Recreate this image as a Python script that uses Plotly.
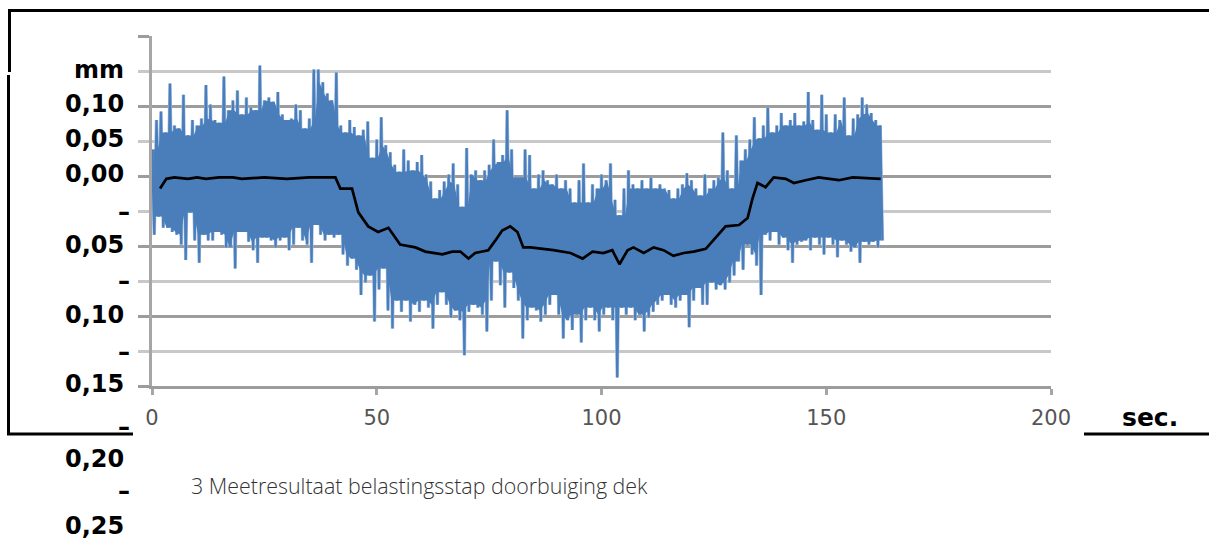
import plotly.graph_objects as go

# ---------------- data (mm, seconds) ----------------
t_sec = list(range(0, 163))

blue_hi = [
    0.019, 0.040, 0.046, 0.031, 0.066, 0.036, 0.034, 0.058, 0.029, 0.040,
    0.036, 0.041, 0.065, 0.051, 0.040, 0.038, 0.071, 0.047, 0.054, 0.061,
    0.044, 0.056, 0.049, 0.047, 0.079, 0.054, 0.056, 0.053, 0.060, 0.044,
    0.040, 0.041, 0.051, 0.047, 0.034, 0.041, 0.076, 0.076, 0.067, 0.059,
    0.054, 0.074,
    0.036, 0.031, 0.040, 0.035, 0.029, 0.033, 0.039, 0.013, 0.026, 0.042,
    0.022, 0.017, 0.008, 0.003, 0.019, 0.011, 0.004, 0.010, 0.015, 0.001,
    -0.004, -0.016, -0.010, -0.004, 0.001, 0.009, -0.006, -0.022, 0.020, 0.001,
    0.004, -0.003, 0.004, 0.008, 0.026, 0.010, 0.015, 0.047, 0.019, -0.001,
    -0.001,
    0.019, 0.015, -0.009, 0.001, 0.004, -0.003, -0.006, 0.001, -0.009, -0.003,
    -0.009, -0.019, -0.003, 0.009, -0.019, -0.006, -0.009, 0.001, -0.003, 0.009,
    -0.017, -0.028, -0.009, 0.004, -0.006, -0.009, -0.003, -0.009, -0.001, -0.009,
    -0.006, -0.009, -0.010, -0.016, -0.009, -0.006, 0.002, -0.003, -0.009, -0.014,
    0.001,
    -0.009, -0.003, -0.001, 0.031, 0.004, -0.009, 0.029, 0.011, 0.019, 0.026,
    0.042, 0.027, 0.036, 0.049, 0.031, 0.036, 0.045, 0.036, 0.040, 0.045,
    0.036, 0.039, 0.060, 0.040, 0.033, 0.058, 0.044, 0.031, 0.044, 0.040,
    0.056, 0.029, 0.041, 0.044, 0.056, 0.051, 0.045, 0.040, 0.036,
]

blue_lo = [
    -0.042, -0.029, -0.037, -0.037, -0.040, -0.042, -0.049, -0.060, -0.026, -0.046,
    -0.062, -0.042, -0.046, -0.046, -0.040, -0.042, -0.051, -0.051, -0.066, -0.040,
    -0.040, -0.047, -0.053, -0.062, -0.044, -0.044, -0.046, -0.051, -0.046, -0.044,
    -0.053, -0.049, -0.037, -0.046, -0.049, -0.062, -0.035, -0.042, -0.046, -0.042,
    -0.044, -0.042,
    -0.056, -0.064, -0.059, -0.067, -0.085, -0.076, -0.071, -0.104, -0.081, -0.066,
    -0.096, -0.109, -0.089, -0.097, -0.089, -0.104, -0.092, -0.097, -0.089, -0.094,
    -0.109, -0.092, -0.083, -0.092, -0.101, -0.096, -0.103, -0.128, -0.097, -0.092,
    -0.094, -0.099, -0.111, -0.089, -0.061, -0.078, -0.094, -0.069, -0.080, -0.089,
    -0.116,
    -0.103, -0.094, -0.096, -0.104, -0.099, -0.092, -0.085, -0.099, -0.116, -0.103,
    -0.110, -0.099, -0.119, -0.103, -0.094, -0.103, -0.111, -0.099, -0.094, -0.103,
    -0.144, -0.094, -0.099, -0.094, -0.103, -0.099, -0.111, -0.101, -0.097, -0.092,
    -0.089, -0.085, -0.092, -0.094, -0.089, -0.085, -0.108, -0.089, -0.080, -0.092,
    -0.092,
    -0.076, -0.081, -0.078, -0.081, -0.076, -0.071, -0.061, -0.067, -0.049, -0.056,
    -0.064, -0.085, -0.042, -0.046, -0.040, -0.049, -0.044, -0.053, -0.062, -0.049,
    -0.047, -0.046, -0.053, -0.044, -0.049, -0.056, -0.044, -0.049, -0.058, -0.046,
    -0.049, -0.054, -0.051, -0.062, -0.047, -0.049, -0.047, -0.051, -0.046,
]

avg_t = [1.8, 3.2, 5, 8, 10, 12, 15, 18, 20, 25, 30, 35, 40.8, 41.9, 44.5, 45.9,
         48.1, 50.3, 52.6, 55.2, 58.6, 60.8, 64.6, 66.8, 68.6, 70.4, 71.9, 74.8,
         76.4, 77.9, 79.7, 81.3, 82.6, 84.2, 89.3, 93.1, 95.8, 98, 100.4, 102.4,
         104, 105.8, 107.1, 109.4, 111.6, 113.8, 116, 118.3, 120.5, 123.2, 125.4,
         127.6, 130.6, 132.5, 133.6, 134.7, 136.5, 138.3, 141, 142.8, 145.4, 148.3,
         152.8, 155.9, 162.1]
avg_v = [-0.009, -0.002, -0.001, -0.002, -0.001, -0.002, -0.001, -0.001, -0.002,
         -0.001, -0.002, -0.001, -0.001, -0.009, -0.009, -0.026, -0.036, -0.040,
         -0.037, -0.049, -0.051, -0.054, -0.056, -0.054, -0.054, -0.059, -0.055,
         -0.053, -0.046, -0.039, -0.036, -0.040, -0.051, -0.051, -0.053, -0.055,
         -0.059, -0.054, -0.055, -0.053, -0.063, -0.053, -0.051, -0.055, -0.051,
         -0.053, -0.057, -0.055, -0.054, -0.052, -0.044, -0.036, -0.035, -0.030,
         -0.016, -0.005, -0.008, -0.001, -0.002, -0.005, -0.003, -0.001, -0.003,
         -0.001, -0.002]

x_ticks = [0, 50, 100, 150, 200]
y_labels = ["mm", "0,10", "0,05", "0,00", "–", "0,05", "–", "0,10", "–", "0,15",
            "–", "0,20", "–", "0,25"]
x_title = "sec."
caption = "3 Meetresultaat belastingsstap doorbuiging dek"

# ---------------- derived series ----------------
# the trace in time order: a peak and a trough per second
sig_x, sig_y = [], []
for t, h, l in zip(t_sec, blue_hi, blue_lo):
    sig_x += [t, t + 0.5]
    sig_y += [h, l]

# dense middle of the trace: below the lowest of neighbouring peaks and
# above the highest of neighbouring troughs
n = len(t_sec)
core_top = [min(blue_hi[max(0, i - 1):i + 2]) for i in range(n)]
core_bot = [max(blue_lo[max(0, i - 1):i + 2]) for i in range(n)]
core_x = [t + 0.25 for t in t_sec]

W, H = 1209, 542
L, R, T, B = 152, 1051, 36, 386


def px(xp):
    return (xp - L) / (R - L)


def py(yp):
    return (B - yp) / (B - T)


BLUE = "#4a7ebb"
fig = go.Figure()
fig.add_trace(go.Scatter(x=sig_x, y=sig_y, mode="lines",
                         line=dict(color="#a3bfe2", width=3.4), hoverinfo="skip"))
fig.add_trace(go.Scatter(x=core_x, y=core_top, mode="lines",
                         line=dict(color=BLUE, width=0), hoverinfo="skip"))
fig.add_trace(go.Scatter(x=core_x, y=core_bot, mode="lines", fill="tonexty",
                         fillcolor=BLUE, line=dict(color=BLUE, width=0),
                         hoverinfo="skip"))
fig.add_trace(go.Scatter(x=sig_x, y=sig_y, mode="lines",
                         line=dict(color=BLUE, width=2.2), hoverinfo="skip"))
fig.add_trace(go.Scatter(x=avg_t, y=avg_v, mode="lines",
                         line=dict(color="#000000", width=2.7), hoverinfo="skip"))

fig.update_layout(
    width=W, height=H, showlegend=False,
    margin=dict(l=L, r=W - R, t=T, b=H - B, pad=0),
    paper_bgcolor="white", plot_bgcolor="white",
    font=dict(family="DejaVu Sans", color="#000000"),
)
fig.update_xaxes(range=[0, 200], tickvals=x_ticks, ticks="outside", ticklen=6,
                 tickwidth=3, tickcolor="#a6a6a6", showline=True,
                 linecolor="#9c9c9c", linewidth=3, showgrid=False, zeroline=False,
                 tickfont=dict(family="DejaVu Sans", size=21, color="#555555"),
                 ticklabelstandoff=5)
fig.update_yaxes(range=[-0.15, 0.10], dtick=0.05, tick0=0, showgrid=True,
                 gridcolor="#9c9c9c", gridwidth=3, ticks="outside", ticklen=11,
                 tickwidth=3, tickcolor="#9c9c9c", showticklabels=False,
                 showline=True, linecolor="#a6a6a6", linewidth=3, zeroline=False,
                 minor=dict(dtick=0.025, showgrid=True, gridcolor="#c8c8c8",
                            gridwidth=3, ticks="outside", ticklen=11,
                            tickwidth=3, tickcolor="#c8c8c8"))

# y-axis label column (as printed in the source)
label_y = [70, 104, 139, 174, 212, 245, 281, 315, 352, 384, 427, 459, 491, 526]
for txt, yy in zip(y_labels, label_y):
    xr = 132 if txt == "–" else 126
    fig.add_annotation(text="<b>%s</b>" % txt, x=px(xr), y=py(yy), xref="paper",
                       yref="paper", xanchor="right", yanchor="middle",
                       showarrow=False,
                       font=dict(family="DejaVu Sans", size=24, color="#000000"))

fig.add_annotation(text="<b>%s</b>" % x_title, x=px(1150), y=py(417), xref="paper",
                   yref="paper", xanchor="center", yanchor="middle", showarrow=False,
                   font=dict(family="DejaVu Sans", size=25, color="#000000"))
fig.add_annotation(text=caption, x=px(189), y=py(485), xref="paper", yref="paper",
                   xanchor="left", yanchor="middle", showarrow=False,
                   font=dict(family="Open Sans", size=21.4, color="#333333",
                             weight=300))

# black frame lines
frame = [
    (8, 10.5, 1209, 10.5),
    (9.5, 10, 9.5, 72),
    (8.5, 75, 8.5, 435),
    (7, 434, 133, 434),
    (1084, 434, 1209, 434),
]
for x0, y0, x1, y1 in frame:
    fig.add_shape(type="line", xref="paper", yref="paper", x0=px(x0), y0=py(y0),
                  x1=px(x1), y1=py(y1), line=dict(color="#000000", width=3))

fig.write_html("out.html",
               config={"displayModeBar": False},
               post_script="document.body.style.margin='0';"
                           "document.body.style.overflow='hidden';")
